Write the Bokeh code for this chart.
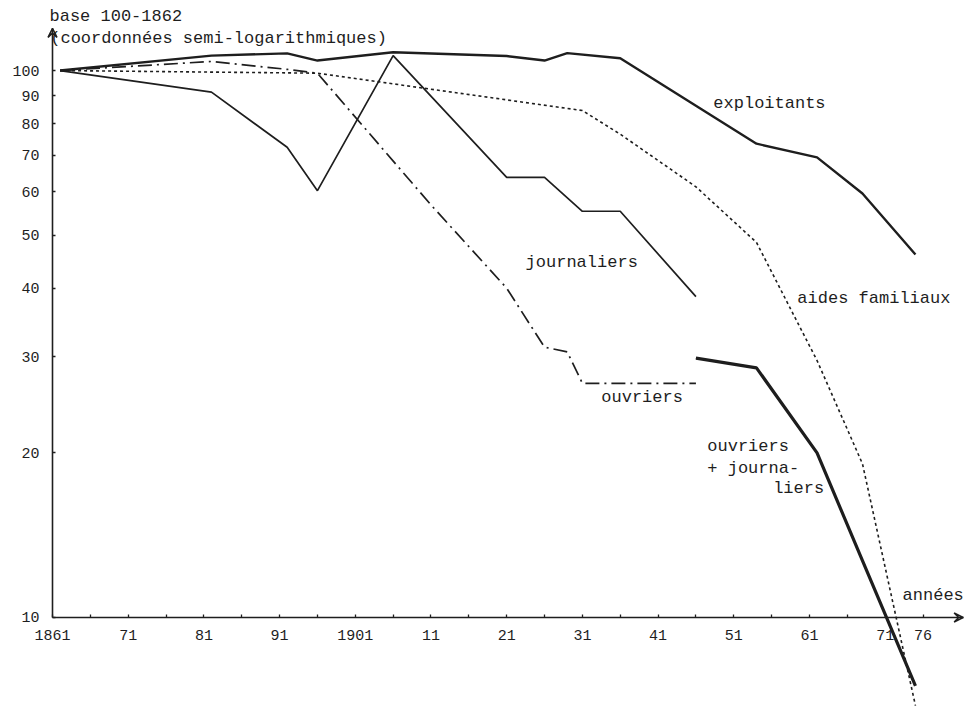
from bokeh.plotting import figure
from bokeh.models import LinearAxis, LogAxis, FixedTicker, Arrow, VeeHead, Range1d
from bokeh.core.properties import value
from bokeh.embed import file_html
from bokeh.resources import INLINE

# ---- data (index, base 100 = 1862) ----
exp_years = [1862, 1882, 1892, 1896, 1906, 1921, 1926, 1929, 1936, 1954, 1962, 1968, 1975]
exp_vals = [100, 106.5, 107.5, 104.3, 108, 106.3, 104.3, 107.6, 105.3, 73.5, 69.4, 59.6, 46.1]

jou_years = [1862, 1882, 1892, 1896, 1906, 1921, 1926, 1931, 1936, 1946]
jou_vals = [100, 91.3, 72.4, 60.3, 106.5, 63.8, 63.8, 55.3, 55.3, 38.6]

ouv_years = [1862, 1882, 1892, 1896, 1911, 1921, 1926, 1929, 1931, 1946]
ouv_vals = [100, 103.9, 100.5, 98.9, 56.8, 40.0, 31.2, 30.6, 26.8, 26.8]

aid_years = [1862, 1896, 1931, 1936, 1946, 1954, 1962, 1968, 1975]
aid_vals = [100, 98.9, 84.5, 76.5, 61.3, 48.5, 29.5, 19.1, 6.9]

oj_years = [1946, 1954, 1962, 1968, 1975]
oj_vals = [29.8, 28.6, 20.0, 12.7, 7.5]

x_ticks = [1861, 1871, 1881, 1891, 1901, 1911, 1921, 1931, 1941, 1951, 1961, 1971, 1976]
x_tick_labels = ["1861", "71", "81", "91", "1901", "11", "21", "31", "41", "51", "61", "71", "76"]
x_minor = [1866, 1876, 1886, 1896, 1906, 1916, 1926, 1936, 1946, 1956, 1966]
y_ticks = [10, 20, 30, 40, 50, 60, 70, 80, 90, 100]
y_tick_labels = ["10", "20", "30", "40", "50", "60", "70", "80", "90", "100"]

label_texts = ["exploitants", "journaliers", "aides familiaux", "ouvriers",
               "ouvriers", "+ journa-", "liers", "années"]
label_years = [1948.3, 1923.5, 1959.4, 1933.5, 1947.5, 1947.5, 1956.2, 1973.3]
label_vals = [87.0, 44.6, 38.3, 25.3, 20.5, 18.7, 17.2, 10.97]

title_texts = ["base 100-1862", "(coordonnées semi-logarithmiques)"]
title_years = [1860.6, 1860.7]
title_vals = [125.5, 114.4]

INK = "#1e1e1e"
MONO = "Liberation Mono"

p = figure(width=964, height=710, output_backend="svg", toolbar_location=None,
           x_range=Range1d(1854.13, 1981.48), y_range=Range1d(6.76, 134.3),
           y_axis_type="log", x_axis_location=None, y_axis_location=None,
           min_border=0, min_border_left=0, min_border_right=0,
           min_border_top=0, min_border_bottom=0)
p.outline_line_color = None
p.grid.visible = False
p.background_fill_color = "white"
p.border_fill_color = "white"

xaxis = LinearAxis(fixed_location=10, bounds=(1861, 1981.3),
                   ticker=FixedTicker(ticks=x_ticks, minor_ticks=x_minor),
                   major_label_overrides=dict(zip(x_ticks, x_tick_labels)))
yaxis = LogAxis(fixed_location=1861, bounds=(10, 119.4),
                ticker=FixedTicker(ticks=y_ticks, minor_ticks=[]),
                major_label_overrides=dict(zip(y_ticks, y_tick_labels)))
for ax in (xaxis, yaxis):
    ax.axis_line_color = INK
    ax.axis_line_width = 1.6
    ax.major_tick_line_color = INK
    ax.major_tick_line_width = 1.3
    ax.minor_tick_line_color = INK
    ax.minor_tick_line_width = 1.3
    ax.major_tick_in = 3
    ax.major_tick_out = 0
    ax.minor_tick_in = 3
    ax.minor_tick_out = 0
    ax.major_label_text_font = MONO
    ax.major_label_text_font_size = "15px"
    ax.major_label_text_color = INK
xaxis.major_label_standoff = 13
yaxis.major_label_standoff = 13
p.add_layout(xaxis, "below")
p.add_layout(yaxis, "left")

p.add_layout(Arrow(end=VeeHead(size=9, line_color=INK, line_width=1.5, fill_color=None),
                   x_start=1975, y_start=10, x_end=1981.3, y_end=10,
                   line_alpha=0))
p.add_layout(Arrow(end=VeeHead(size=9, line_color=INK, line_width=1.5, fill_color=None),
                   x_start=1861, y_start=100, x_end=1861, y_end=119.4,
                   line_alpha=0))

p.line(exp_years, exp_vals, line_color=INK, line_width=2.4)
p.line(jou_years, jou_vals, line_color=INK, line_width=1.7)
p.line(ouv_years, ouv_vals, line_color=INK, line_width=1.7, line_dash="14 5 2 5")
p.line(aid_years, aid_vals, line_color=INK, line_width=1.6, line_dash="3 3")
p.line(oj_years, oj_vals, line_color=INK, line_width=3.2)
p.line(oj_years, oj_vals, line_color=INK, line_width=1.6, line_dash="10 4")

p.text(label_years, label_vals, text=label_texts, text_font=value(MONO),
       text_font_size="17px", text_color=INK, text_align="left", text_baseline="middle")
p.text(title_years, title_vals, text=title_texts, text_font=value(MONO),
       text_font_size="17px", text_color=INK, text_align="left", text_baseline="middle")

open("out.html", "w").write(file_html(p, INLINE))
